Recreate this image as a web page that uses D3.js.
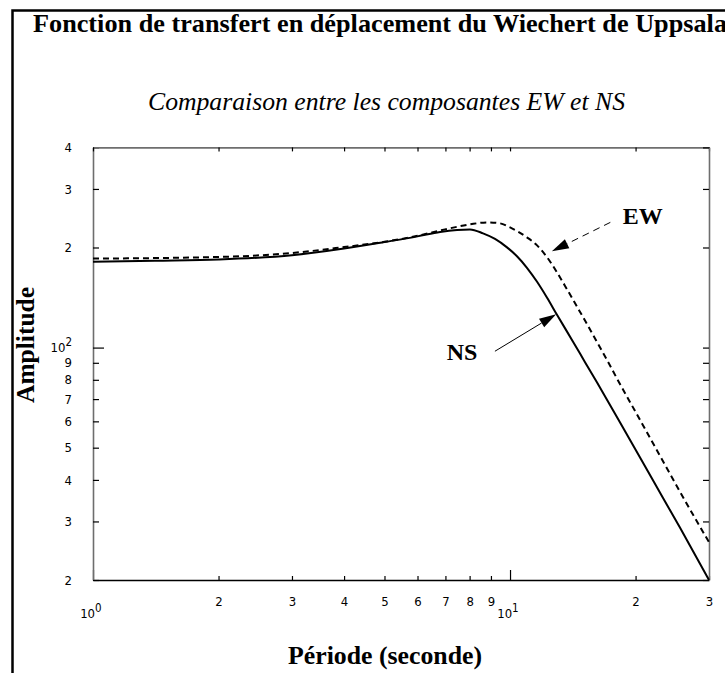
<!DOCTYPE html>
<html>
<head>
<meta charset="utf-8">
<script src="https://cdn.jsdelivr.net/npm/d3@7/dist/d3.min.js"></script>
<style>
  html, body { margin: 0; padding: 0; background: #fff; }
  svg { display: block; }
  .serif { font-family: "Liberation Serif", "Times New Roman", serif; }
  .tick text { font-family: "Liberation Sans Narrow", "DejaVu Sans Condensed", "Liberation Sans", sans-serif; font-size: 13px; fill: #000; }
</style>
</head>
<body>
<svg id="chart" width="725" height="673"></svg>
<script>
// Transfer function of the Uppsala Wiechert seismograph (displacement), EW vs NS components
const periodEW = [1, 2, 3, 4, 5, 6, 6.985, 8.017, 8.807, 9.462, 10, 10.98, 11.61, 12.27, 12.96, 13.70, 14.48, 15.30, 16.17, 17.09, 18.06, 19.95, 21.68, 23.55, 25.57, 27.77, 30];
const amplitudeEW = [185.2, 187.3, 192.5, 200.6, 208.0, 216.8, 226.7, 234.7, 238.0, 236.4, 229.9, 214.5, 203.0, 186.9, 168.4, 149.7, 132.7, 117.6, 103.8, 91.7, 80.6, 64.4, 53.4, 44.3, 36.8, 30.7, 26.0];

const periodNS = [1, 1.408, 2, 3, 4, 5, 6, 6.795, 7.464, 8.017, 8.615, 9.204, 9.835, 10.39, 10.98, 11.61, 12.27, 12.96, 14.16, 15.13, 16.17, 18.36, 22.14, 25.57, 30];
const amplitudeNS = [181.1, 182.4, 184.0, 189.5, 198.5, 207.7, 216.0, 222.8, 225.9, 226.7, 220.6, 212.3, 200.2, 188.2, 173.8, 157.7, 141.2, 125.5, 104.2, 90.4, 78.5, 59.5, 39.4, 28.7, 20];

const xTickValues = [1, 2, 3, 4, 5, 6, 7, 8, 9, 10, 20, 30];
const xTickLabels = ["10|0", "2", "3", "4", "5", "6", "7", "8", "9", "10|1", "2", "3"];
const yTickValues = [20, 30, 40, 50, 60, 70, 80, 90, 100, 200, 300, 400];
const yTickLabels = ["2", "3", "4", "5", "6", "7", "8", "9", "10|2", "2", "3", "4"];

const titleText = "Fonction de transfert en déplacement du Wiechert de Uppsala";
const subtitleText = "Comparaison entre les composantes EW et NS";
const xLabel = "Période (seconde)";
const yLabel = "Amplitude";

// annotation anchors in data units: [period, amplitude]
const ewLabelAt = [20.8, 234.7];
const ewArrowFrom = [17.4, 238];
const ewArrowTo = [12.6, 194.8];
const nsLabelAt = [7.67, 91.7];
const nsArrowFrom = [9.2, 97.5];
const nsArrowTo = [12.9, 126];

const svg = d3.select("#chart");
const x = d3.scaleLog().domain([1, 30]).range([93, 709]);
const y = d3.scaleLog().domain([20, 400]).range([580, 147.4]);

// outer frame (open to the right and bottom)
svg.append("rect")
  .attr("x", 12.5).attr("y", 10.5)
  .attr("width", 900).attr("height", 900)
  .attr("fill", "none").attr("stroke", "#000").attr("stroke-width", 2.5);

// titles
svg.append("text").attr("class", "serif")
  .attr("x", 33).attr("y", 32)
  .attr("font-size", 25).attr("font-weight", "bold")
  .attr("textLength", 694).attr("lengthAdjust", "spacingAndGlyphs")
  .text(titleText);

svg.append("text").attr("class", "serif")
  .attr("x", 148).attr("y", 110)
  .attr("font-size", 25).attr("font-style", "italic")
  .attr("textLength", 477).attr("lengthAdjust", "spacingAndGlyphs")
  .text(subtitleText);

// tick label formatter: "10|n" means 10 with superscript n
function setLabel(sel, labels, values) {
  sel.each(function(d) {
    const lab = labels[values.indexOf(d)];
    const t = d3.select(this);
    t.text(null);
    if (lab.includes("|")) {
      const [base, sup] = lab.split("|");
      t.append("tspan").text(base);
      t.append("tspan").attr("dy", "-0.55em").attr("font-size", "11.5px").text(sup);
    } else {
      t.text(lab);
    }
  });
}

const gx = svg.append("g").attr("transform", `translate(0,${580})`)
  .call(d3.axisBottom(x).tickValues(xTickValues).tickSizeInner(-4).tickSizeOuter(0).tickPadding(17));
const gy = svg.append("g").attr("transform", `translate(${93},0)`)
  .call(d3.axisLeft(y).tickValues(yTickValues).tickSizeInner(-6).tickSizeOuter(0).tickPadding(21));
const gt = svg.append("g").attr("transform", `translate(0,${147.4})`)
  .call(d3.axisTop(x).tickValues(xTickValues).tickSizeInner(-4).tickSizeOuter(0).tickFormat(""));
const gr = svg.append("g").attr("transform", `translate(${709},0)`)
  .call(d3.axisRight(y).tickValues(yTickValues).tickSizeInner(-6).tickSizeOuter(0).tickFormat(""));

gx.selectAll(".tick text").call(setLabel, xTickLabels, xTickValues);
gy.selectAll(".tick text").call(setLabel, yTickLabels, yTickValues);

// decade ticks are longer; decade labels on x sit lower
gx.selectAll(".tick").filter(d => d === 1 || d === 10).select("line").attr("y2", -10);
gx.selectAll(".tick").filter(d => d === 1 || d === 10).select("text").attr("y", 29).attr("dx", "-0.2em");
gy.selectAll(".tick").filter(d => d === 100).select("line").attr("x2", 11);

[gx, gy, gt, gr].forEach(g => {
  g.selectAll(".tick line").attr("stroke", "#000").attr("stroke-width", 1.2);
});
gx.select(".domain").attr("stroke", "#000").attr("stroke-width", 1.6);
[gy, gt, gr].forEach(g => g.select(".domain").attr("stroke", "#6e6e6e").attr("stroke-width", 1.6));

// axis titles
svg.append("text").attr("class", "serif")
  .attr("x", 288).attr("y", 664)
  .attr("font-size", 25).attr("font-weight", "bold")
  .attr("textLength", 194).attr("lengthAdjust", "spacingAndGlyphs")
  .text(xLabel);
svg.append("text").attr("class", "serif")
  .attr("transform", `translate(34,403) rotate(-90)`)
  .attr("font-size", 25).attr("font-weight", "bold")
  .attr("textLength", 116).attr("lengthAdjust", "spacingAndGlyphs")
  .text(yLabel);

// curves
const line = d3.line().x(d => x(d[0])).y(d => y(d[1])).curve(d3.curveMonotoneX);
const plot = svg.append("g");
plot.append("path")
  .datum(periodEW.map((p, i) => [p, amplitudeEW[i]]))
  .attr("d", line).attr("fill", "none").attr("stroke", "#000")
  .attr("stroke-width", 2).attr("stroke-dasharray", "6,4");
plot.append("path")
  .datum(periodNS.map((p, i) => [p, amplitudeNS[i]]))
  .attr("d", line).attr("fill", "none").attr("stroke", "#000")
  .attr("stroke-width", 2);

// annotations
function arrow(from, to, dashed) {
  const x1 = x(from[0]), y1 = y(from[1]), x2 = x(to[0]), y2 = y(to[1]);
  const ang = Math.atan2(y2 - y1, x2 - x1);
  const headLen = 17, headHalf = 5;
  const bx = x2 - headLen * Math.cos(ang), by = y2 - headLen * Math.sin(ang);
  svg.append("line")
    .attr("x1", x1).attr("y1", y1).attr("x2", bx).attr("y2", by)
    .attr("stroke", "#000").attr("stroke-width", 1)
    .attr("stroke-dasharray", dashed ? "7,5" : null);
  const px = -Math.sin(ang) * headHalf, py = Math.cos(ang) * headHalf;
  svg.append("path")
    .attr("d", `M${x2},${y2}L${bx + px},${by + py}L${bx - px},${by - py}Z`)
    .attr("fill", "#000");
}
arrow(ewArrowFrom, ewArrowTo, true);
arrow(nsArrowFrom, nsArrowTo, false);

svg.append("text").attr("class", "serif")
  .attr("x", x(ewLabelAt[0])).attr("y", y(ewLabelAt[1]))
  .attr("text-anchor", "middle").attr("font-size", 24).attr("font-weight", "bold")
  .text("EW");
svg.append("text").attr("class", "serif")
  .attr("x", x(nsLabelAt[0])).attr("y", y(nsLabelAt[1]))
  .attr("text-anchor", "middle").attr("font-size", 24).attr("font-weight", "bold")
  .text("NS");
</script>
</body>
</html>
